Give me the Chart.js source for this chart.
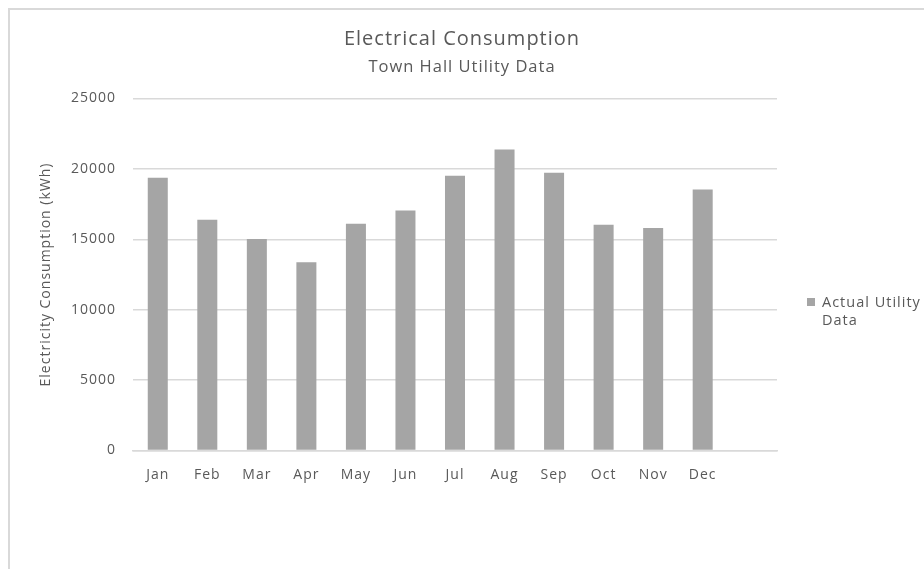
<!DOCTYPE html>
<html>
<head>
<meta charset="utf-8">
<script src="https://cdn.jsdelivr.net/npm/chart.js@4"></script>
<style>
  html, body { margin: 0; padding: 0; background: #fff; }
  #wrap { position: relative; width: 924px; height: 569px; overflow: hidden; }
  #frame {
    position: absolute; left: 8px; top: 8px; width: 940px; height: 600px;
    border: 2px solid #d9d9d9; pointer-events: none;
  }
</style>
</head>
<body>
<div id="wrap">
  <canvas id="chart" width="924" height="569"></canvas>
  <div id="frame"></div>
</div>
<script>
// months plus one empty slot, like the source chart
const months = ["Jan", "Feb", "Mar", "Apr", "May", "Jun", "Jul", "Aug", "Sep", "Oct", "Nov", "Dec", ""];
const actualUsage = [19370, 16390, 15030, 13370, 16110, 17050, 19510, 21370, 19720, 16040, 15810, 18540, null];
const yTicks = [0, 5000, 10000, 15000, 20000, 25000];

const textColor = "#595959";
const gridColor = "#d9d9d9";
const barColor = "#a5a5a5";

// the source text is spaced out a bit wider than Open Sans
const spacing = {
  id: "spacing",
  beforeDraw(chart) {
    chart.ctx.letterSpacing = "1px";
  },
};

// small legend on the right of the plot
const sideLegend = {
  id: "sideLegend",
  afterDraw(chart) {
    const ctx = chart.ctx;
    const x = chart.chartArea.right + 30;
    ctx.save();
    ctx.letterSpacing = "1px";
    ctx.fillStyle = barColor;
    ctx.fillRect(x, 298, 8, 8);
    ctx.fillStyle = textColor;
    ctx.font = "14.5px 'Open Sans'";
    ctx.textBaseline = "alphabetic";
    ctx.fillText("Actual Utility", x + 15, 307);
    ctx.fillText("Data", x + 15, 325);
    ctx.restore();
  },
};

new Chart(document.getElementById("chart"), {
  type: "bar",
  data: {
    labels: months,
    datasets: [
      {
        label: "Actual Utility Data",
        data: actualUsage,
        backgroundColor: barColor,
        categoryPercentage: 1,
        barPercentage: 0.404,
      },
    ],
  },
  options: {
    responsive: false,
    animation: false,
    layout: { padding: { left: 0, right: 0, top: 0, bottom: 78.5 } },
    plugins: {
      legend: { display: false },
      tooltip: { enabled: false },
      title: {
        display: true,
        text: "Electrical Consumption",
        color: textColor,
        font: { family: "Open Sans", size: 20, weight: "normal", lineHeight: 1.2 },
        padding: { top: 27, bottom: 0 },
      },
      subtitle: {
        display: true,
        text: "Town Hall Utility Data",
        color: textColor,
        font: { family: "Open Sans", size: 16.5, weight: "normal", lineHeight: 1.2 },
        padding: { top: 6, bottom: 21.7 },
      },
    },
    scales: {
      x: {
        grid: { display: false },
        border: { display: true, color: gridColor, width: 1.5 },
        ticks: { color: textColor, font: { family: "Open Sans", size: 14 }, padding: 8, maxRotation: 0 },
        afterFit(scale) { scale.height = 40; },
      },
      y: {
        min: 0,
        max: 25000,
        afterBuildTicks(scale) { scale.ticks = yTicks.map((v) => ({ value: v })); },
        grid: { color: gridColor, lineWidth: 1.5, drawTicks: false },
        border: { display: false },
        ticks: {
          color: textColor,
          font: { family: "Open Sans", size: 14 },
          padding: 17,
          callback: (value) => String(value),
        },
        title: {
          display: true,
          text: "Electricity Consumption (kWh)",
          color: textColor,
          font: { family: "Open Sans", size: 14 },
          padding: { top: 38 },
        },
        afterFit(scale) { scale.width = 133; },
      },
      side: {
        type: "linear",
        position: "right",
        display: true,
        grid: { display: false },
        border: { display: false },
        ticks: { display: false },
        afterFit(scale) { scale.width = 147; },
      },
    },
  },
  plugins: [spacing, sideLegend],
});
</script>
</body>
</html>
